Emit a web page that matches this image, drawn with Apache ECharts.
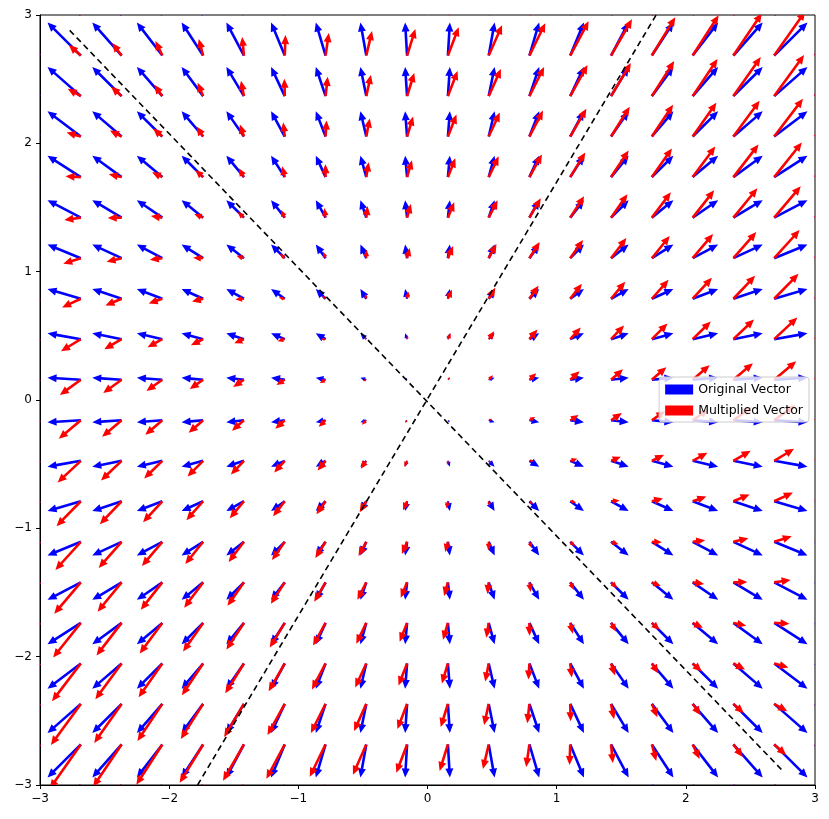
<!DOCTYPE html>
<html>
<head>
<meta charset="utf-8">
<script src="https://cdn.jsdelivr.net/npm/echarts@6/dist/echarts.min.js"></script>
<style>html,body{margin:0;padding:0;background:#fff}#chart{width:829px;height:819px}</style>
</head>
<body>
<div id="chart"></div>
<script>
// grid of sample points (20 points from -3 to 3)
var gridVals = [-3, -2.684, -2.368, -2.053, -1.737, -1.421, -1.105, -0.789, -0.474, -0.158,
                0.158, 0.474, 0.789, 1.105, 1.421, 1.737, 2.053, 2.368, 2.684, 3];
// matrix applied to each vector
var matrixA = [[1, 0.444], [0.788, 1.284]];
var blueScale = 0.096;  // quiver length per unit, original
var redScale = 0.062;   // quiver length per unit, multiplied
// dashed lines (eigen directions)
var line1 = [[-2.77, 2.88], [2.76, -2.9]];
var line2 = [[-1.78, -3], [1.77, 3]];

var blueData = [], redData = [];
gridVals.forEach(function(x){
	gridVals.forEach(function(y){
		blueData.push([x, y, x*blueScale, y*blueScale]);
		var mx = matrixA[0][0]*x + matrixA[0][1]*y;
		var my = matrixA[1][0]*x + matrixA[1][1]*y;
		redData.push([x, y, mx*redScale, my*redScale]);
	});
});

function arrow(params, api){
	var x = api.value(0), y = api.value(1);
	var p0 = api.coord([x, y]);
	var p1 = api.coord([x + api.value(2), y + api.value(3)]);
	var dx = p1[0]-p0[0], dy = p1[1]-p0[1];
	var len = Math.sqrt(dx*dx+dy*dy);
	if(len < 0.3) return;
	var ux = dx/len, uy = dy/len, nx = -uy, ny = ux;
	var w = 2.6, hw = 8, hl = 9;
	var s = 1;
	if(len < hl*1.3){ s = len/(hl*1.3); }
	w*=s; hw*=s; hl*=s;
	var bx = p1[0]-ux*hl, by = p1[1]-uy*hl;
	var pts = [
		[p0[0]+nx*w/2, p0[1]+ny*w/2],
		[bx+nx*w/2, by+ny*w/2],
		[bx+nx*hw/2, by+ny*hw/2],
		[p1[0], p1[1]],
		[bx-nx*hw/2, by-ny*hw/2],
		[bx-nx*w/2, by-ny*w/2],
		[p0[0]-nx*w/2, p0[1]-ny*w/2]
	];
	return {type:'polygon', shape:{points:pts}, style:{fill:api.visual('color')}};
}

var chart = echarts.init(document.getElementById('chart'));
var axisCommon = {
	type:'value', min:-3, max:3, interval:1,
	axisLine:{show:true, onZero:false, lineStyle:{color:'#000'}},
	axisTick:{show:true, length:4, lineStyle:{color:'#000'}},
	axisLabel:{color:'#000', fontSize:12, fontFamily:'DejaVu Sans',
		formatter:function(v){ return v < 0 ? '\u2212' + (-v) : '' + v; }},
	splitLine:{show:false}
};
chart.setOption({
	animation:false,
	grid:{left:40, right:14, top:15, bottom:34, show:true, borderColor:'#000', borderWidth:1},
	xAxis:axisCommon,
	yAxis:axisCommon,
	legend:{
		data:[{name:'Original Vector', icon:'rect'}, {name:'Multiplied Vector', icon:'rect'}],
		orient:'vertical', right:20, top:377, itemWidth:28, itemHeight:10, itemGap:8,
		backgroundColor:'rgba(255,255,255,0.8)', borderColor:'#ccc', borderWidth:1, borderRadius:3,
		padding:[6,6,5,6],
		textStyle:{color:'#000', fontSize:12.5, fontFamily:'DejaVu Sans'}
	},
	series:[
		{name:'Original Vector', type:'custom', renderItem:arrow, data:blueData, clip:true,
		 itemStyle:{color:'#0000ff'}, encode:{x:0, y:1}},
		{name:'Multiplied Vector', type:'custom', renderItem:arrow, data:redData, clip:true,
		 itemStyle:{color:'#ff0000'}, encode:{x:0, y:1}},
		{type:'line', data:line1, symbol:'none', lineStyle:{color:'#000', type:[6,4], width:1.6}},
		{type:'line', data:line2, symbol:'none', lineStyle:{color:'#000', type:[6,4], width:1.6}}
	]
});
</script>
</body>
</html>
